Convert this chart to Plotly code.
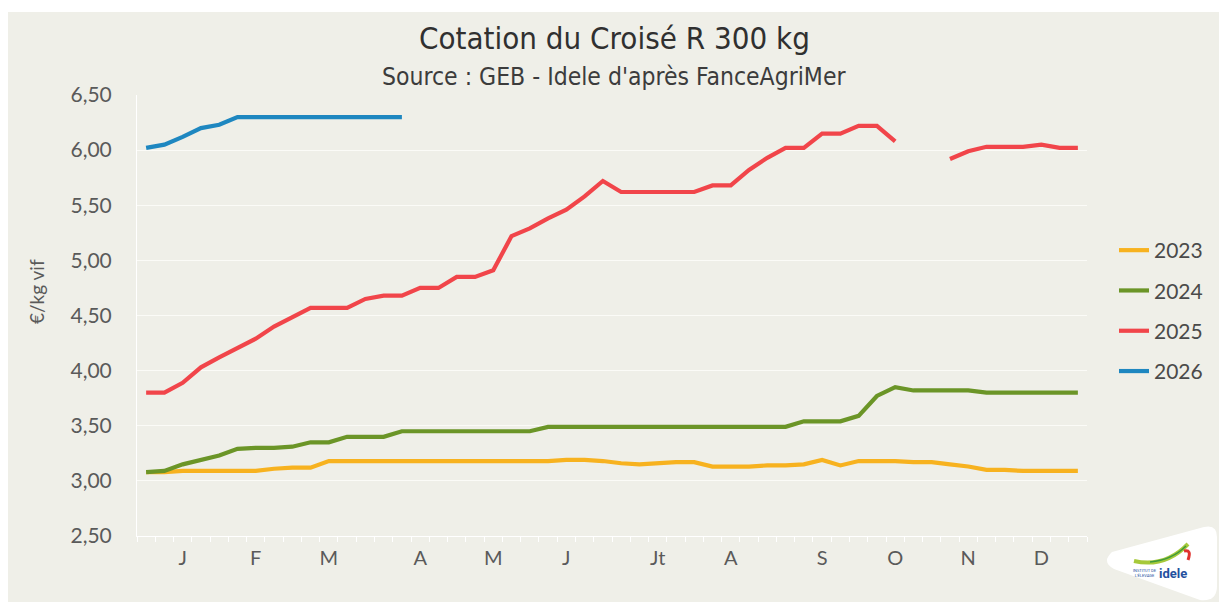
import plotly.graph_objects as go

# ---------------- data ----------------
weeks = list(range(1, 53))
month_weeks = [3, 7, 11, 16, 20, 24, 29, 33, 38, 42, 46, 50]
month_labels = ["J", "F", "M", "A", "M", "J", "Jt", "A", "S", "O", "N", "D"]

y2023 = [3.08, 3.08, 3.09, 3.09, 3.09, 3.09, 3.09, 3.11, 3.12, 3.12,
         3.18, 3.18, 3.18, 3.18, 3.18, 3.18, 3.18, 3.18, 3.18, 3.18,
         3.18, 3.18, 3.18, 3.19, 3.19, 3.18, 3.16, 3.15, 3.16, 3.17,
         3.17, 3.13, 3.13, 3.13, 3.14, 3.14, 3.15, 3.19, 3.14, 3.18,
         3.18, 3.18, 3.17, 3.17, 3.15, 3.13, 3.10, 3.10, 3.09, 3.09,
         3.09, 3.09]
y2024 = [3.08, 3.09, 3.15, 3.19, 3.23, 3.29, 3.30, 3.30, 3.31, 3.35,
         3.35, 3.40, 3.40, 3.40, 3.45, 3.45, 3.45, 3.45, 3.45, 3.45,
         3.45, 3.45, 3.49, 3.49, 3.49, 3.49, 3.49, 3.49, 3.49, 3.49,
         3.49, 3.49, 3.49, 3.49, 3.49, 3.49, 3.54, 3.54, 3.54, 3.59,
         3.77, 3.85, 3.82, 3.82, 3.82, 3.82, 3.80, 3.80, 3.80, 3.80,
         3.80, 3.80]
y2025 = [3.80, 3.80, 3.89, 4.03, 4.12, 4.21, 4.29, 4.40, 4.48, 4.57,
         4.57, 4.57, 4.65, 4.68, 4.68, 4.75, 4.75, 4.85, 4.85, 4.91,
         5.22, 5.29, 5.38, 5.46, 5.58, 5.72, 5.62, 5.62, 5.62, 5.62,
         5.62, 5.68, 5.68, 5.82, 5.93, 6.02, 6.02, 6.15, 6.15, 6.22,
         6.22, 6.08, None, None, 5.92, 5.99, 6.03, 6.03, 6.03, 6.05,
         6.02, 6.02]
y2026 = [6.02, 6.05, 6.12, 6.20, 6.23, 6.30, 6.30, 6.30, 6.30, 6.30,
         6.30, 6.30, 6.30, 6.30, 6.30]

series = [("2023", y2023, "#F7B21F"),
          ("2024", y2024, "#6B9527"),
          ("2025", y2025, "#F1454A"),
          ("2026", y2026, "#1E87C0")]

# ---------------- layout geometry (reference pixel frame) ----------------
W, H = 1227, 602
OFF = 8                       # default page margin of the html body
L, R, T, B = 137, 1087, 95, 536


def xp(px):
    return (px - L) / (R - L)


def yp(py):
    return (B - py) / (B - T)


BG = "#EFEFE8"
TXT = "#5A5A5A"
TICKFONT = "Lato, Open Sans, sans-serif"
TITLEFONT = "Liberation Sans Narrow, DejaVu Sans Condensed, Roboto, sans-serif"

fig = go.Figure()
for name, vals, col in series:
    fig.add_trace(go.Scatter(
        x=weeks[:len(vals)], y=vals, name=name, mode="lines",
        line=dict(color=col, width=4.2), connectgaps=False,
        legendgroup=name, hoverinfo="skip"))

shapes = [
    # white outer border at the top
    dict(type="rect", xref="paper", yref="paper", x0=xp(0), x1=xp(W),
         y0=yp(12), y1=yp(OFF - 1), fillcolor="white", line_width=0, layer="below"),
]


def path(cmds):
    out = []
    for c in cmds:
        if isinstance(c, str):
            out.append(c)
        else:
            out.append(f"{xp(c[0]):.5f},{yp(c[1]):.5f}")
    return " ".join(out)


# logo background
shapes.append(dict(type="path", xref="paper", yref="paper",
                   path=path(["M", (1112, 552), "L", (1204, 527), "Q", (1217, 524), (1217, 537),
                              "L", (1217, 586), "Q", (1217, 602), (1200, 600),
                              "L", (1114, 569), "Q", (1101, 562), (1112, 552), "Z"]),
                   fillcolor="white", line_width=0))
shapes.append(dict(type="path", xref="paper", yref="paper",
                   path=path(["M", (1134, 561), "Q", (1165, 568), (1188, 544)]),
                   line=dict(color="#A6C93A", width=4)))
shapes.append(dict(type="path", xref="paper", yref="paper",
                   path=path(["M", (1150, 562), "Q", (1172, 560), (1186, 546)]),
                   line=dict(color="#3E9A3A", width=1.5)))
shapes.append(dict(type="path", xref="paper", yref="paper",
                   path=path(["M", (1184, 551), "Q", (1192, 549), (1188, 560)]),
                   line=dict(color="#E0322E", width=3)))

annotations = [
    dict(text="Cotation du Croisé R 300 kg", xref="paper", yref="paper",
         x=xp(614), y=yp(38), xanchor="center", yanchor="middle", showarrow=False,
         font=dict(family=TITLEFONT, size=31, color="#303030")),
    dict(text="Source : GEB - Idele d'après FanceAgriMer", xref="paper", yref="paper",
         x=xp(614), y=yp(77), xanchor="center", yanchor="middle", showarrow=False,
         font=dict(family=TITLEFONT, size=24.5, color="#3C3C3C")),
    dict(text="€/kg vif", xref="paper", yref="paper", x=xp(36), y=yp(292),
         xanchor="center", yanchor="middle", textangle=-90, showarrow=False,
         font=dict(family=TICKFONT, size=19, color=TXT)),
    dict(text="<b>idele</b>", xref="paper", yref="paper", x=xp(1173), y=yp(573),
         xanchor="center", yanchor="middle", showarrow=False,
         font=dict(family="Roboto, sans-serif", size=13, color="#24509E")),
    dict(text="INSTITUT DE<br>L'ÉLEVAGE", xref="paper", yref="paper", x=xp(1145), y=yp(573),
         xanchor="center", yanchor="middle", showarrow=False,
         font=dict(family="Roboto, sans-serif", size=4, color="#24509E")),
]

fig.update_layout(
    width=W - OFF, height=H - OFF,
    margin=dict(l=L - OFF, r=W - R, t=T - OFF, b=H - B, pad=0),
    paper_bgcolor=BG, plot_bgcolor=BG,
    separators=", ",
    showlegend=True,
    legend=dict(x=xp(1114), y=yp(230), xanchor="left", yanchor="top",
                font=dict(family=TICKFONT, size=21, color="#4A4A4A"),
                traceorder="grouped", tracegroupgap=10, bgcolor="rgba(0,0,0,0)",
                itemwidth=30),
    shapes=shapes,
    annotations=annotations,
    xaxis=dict(range=[0.5, 52.5], tickmode="array", tickvals=month_weeks,
               ticktext=month_labels, showgrid=False, zeroline=False,
               ticks="", ticklabelstandoff=4,
               tickfont=dict(family=TICKFONT, size=20, color=TXT),
               showline=True, linecolor="#FFFFFF", linewidth=1,
               minor=dict(tickmode="linear", tick0=0.5, dtick=1, ticks="outside",
                          ticklen=5, tickcolor="#FFFFFF", tickwidth=1, showgrid=False)),
    yaxis=dict(range=[2.5, 6.5], tickmode="linear", tick0=2.5, dtick=0.5,
               tickformat=".2f", showgrid=True, gridcolor="#FBFBF7", gridwidth=1,
               zeroline=False, ticks="", ticklabelstandoff=20,
               tickfont=dict(family=TICKFONT, size=21, color=TXT),
               showline=True, linecolor="#FFFFFF", linewidth=1),
)

fig.write_html("out.html")
